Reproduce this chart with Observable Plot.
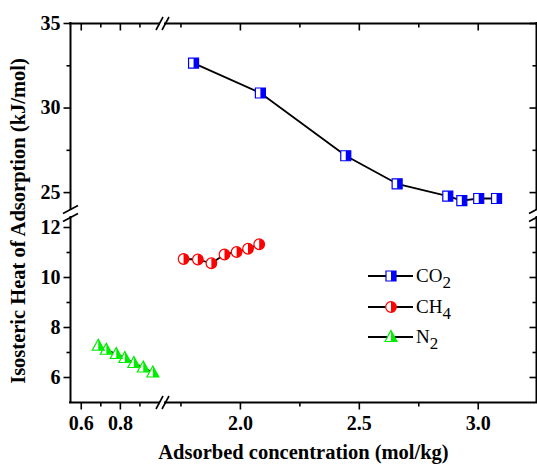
<!DOCTYPE html>
<html><head><meta charset="utf-8">
<script src="https://cdn.jsdelivr.net/npm/d3@7"></script>
<script src="https://cdn.jsdelivr.net/npm/@observablehq/plot@0.6"></script>
<style>
html,body{margin:0;padding:0;background:#fff;}
</style>
</head><body><div id="chart"></div>
<script>
// ---- data ----
const co2X = [1.803, 2.084, 2.443, 2.659, 2.872, 2.931, 3.002, 3.077];
const co2Y = [32.66, 30.89, 27.18, 25.52, 24.79, 24.53, 24.65, 24.65];
const ch4X = [1.761, 1.821, 1.878, 1.933, 1.984, 2.032, 2.079];
const ch4Y = [10.74, 10.72, 10.57, 10.92, 11.02, 11.15, 11.33];
const n2X  = [0.687, 0.728, 0.779, 0.823, 0.869, 0.917, 0.966];
const n2Y  = [7.27, 7.11, 6.94, 6.78, 6.58, 6.40, 6.20];
const seriesBase = ["CO", "CH", "N"];
const seriesSub  = ["2", "4", "2"];
const seriesColor = ["#0000ff", "#ff0000", "#00ee00"];
const xMajor = [0.6, 0.8, 2.0, 2.5, 3.0];
const xMinor = [0.7, 0.9, 1.75, 2.25, 2.75];
const yMajor = [6, 8, 10, 12, 25, 30, 35];
const yMinor = [7, 9, 11, 27.5, 32.5];
const xDomain = [0.545, 1.0, 1.685, 3.245];   // broken x axis (two segments)
const yDomain = [5, 12.4, 24, 35];            // broken y axis (two segments)
const xLabel = "Adsorbed concentration (mol/kg)";
const yLabel = "Isosteric Heat of Adsorption (kJ/mol)";

// broken-axis mapping onto a continuous "axis length" coordinate used by Plot's linear scales
const xSpan = [0, 89, 95, 466];
const ySpan = [0, 185, 193, 379];
function brk(dom, span) {
  return v => {
    let i = 0;
    while (i < dom.length - 2 && v > dom[i + 1]) i++;
    return span[i] + (v - dom[i]) / (dom[i + 1] - dom[i]) * (span[i + 1] - span[i]);
  };
}
const bx = brk(xDomain, xSpan), by = brk(yDomain, ySpan);

const toRows = (xs, ys) => xs.map((x, i) => ({x: bx(x), y: by(ys[i])}));
const co2 = toRows(co2X, co2Y), ch4 = toRows(ch4X, ch4Y), n2 = toRows(n2X, n2Y);

// ---- custom symbols ----
const seg = (x2, y2) => ({draw(c) { c.moveTo(0, 0); c.lineTo(x2, y2); }});
const slashV = {draw(c) { c.moveTo(-7.5, 4); c.lineTo(7.5, -4); }};
const slashH = {draw(c) { c.moveTo(-3.5, 6.5); c.lineTo(3.5, -6.5); }};
const sqFull = {draw(c) { c.rect(-5, -5, 10, 10); }};
const sqHalf = {draw(c) { c.rect(0, -5, 5, 10); }};
const ciFull = {draw(c) { c.moveTo(5.3, 0); c.arc(0, 0, 5.3, 0, 2 * Math.PI); }};
const ciHalf = {draw(c) { c.moveTo(0, -5.3); c.arc(0, 0, 5.3, -Math.PI / 2, Math.PI / 2); c.closePath(); }};
const trFull = {draw(c) { c.moveTo(0, -6.5); c.lineTo(6, 4.5); c.lineTo(-6, 4.5); c.closePath(); }};
const trHalf = {draw(c) { c.moveTo(0, -6.5); c.lineTo(6, 4.5); c.lineTo(0, 4.5); c.closePath(); }};
const fullSyms = [sqFull, ciFull, trFull], halfSyms = [sqHalf, ciHalf, trHalf];

function seriesMarks(rows, k) {
  const col = seriesColor[k];
  return [
    Plot.line(rows, {x: "x", y: "y", stroke: "black", strokeWidth: 1.8}),
    Plot.dot(rows, {x: "x", y: "y", symbol: fullSyms[k], fill: "white", stroke: "none"}),
    Plot.dot(rows, {x: "x", y: "y", symbol: halfSyms[k], fill: col, stroke: "none"}),
    Plot.dot(rows, {x: "x", y: "y", symbol: fullSyms[k], fill: "none", stroke: col, strokeWidth: 1.2})
  ];
}

const ySegs = [[yDomain[0], yDomain[1]], [yDomain[2], yDomain[3]]];
const xSegs = [[xDomain[0], xDomain[1]], [xDomain[2], xDomain[3]]];
const axisStyle = {stroke: "black", strokeWidth: 2, strokeLinecap: "square"};
const tickStyle = {stroke: "black", strokeWidth: 1.6, fill: "none"};
const tickFont = {fontFamily: "Liberation Serif", fontWeight: "bold", fontSize: 20, fill: "black"};

const chart = Plot.plot({
  width: 537, height: 467,
  marginLeft: 70, marginRight: 1, marginTop: 23, marginBottom: 65,
  x: {type: "linear", domain: [xSpan[0], xSpan[3]], axis: null},
  y: {type: "linear", domain: [ySpan[0], ySpan[3]], axis: null},
  style: {fontFamily: "Liberation Serif", background: "white", overflow: "visible"},
  marks: [
    // frame segments
    Plot.ruleX(ySegs, {x: bx(xDomain[0]), y1: d => by(d[0]), y2: d => by(d[1]), ...axisStyle}),
    Plot.ruleX(ySegs, {x: bx(xDomain[3]), y1: d => by(d[0]), y2: d => by(d[1]), ...axisStyle}),
    Plot.ruleY(xSegs, {y: by(yDomain[0]), x1: d => bx(d[0]), x2: d => bx(d[1]), ...axisStyle}),
    Plot.ruleY(xSegs, {y: by(yDomain[3]), x1: d => bx(d[0]), x2: d => bx(d[1]), ...axisStyle}),
    // break marks
    Plot.dot([yDomain[1], yDomain[2]], {x: bx(xDomain[0]), y: by, symbol: slashV, ...tickStyle}),
    Plot.dot([yDomain[1], yDomain[2]], {x: bx(xDomain[3]), y: by, symbol: slashV, ...tickStyle}),
    Plot.dot([xDomain[1], xDomain[2]], {y: by(yDomain[0]), x: bx, symbol: slashH, ...tickStyle}),
    Plot.dot([xDomain[1], xDomain[2]], {y: by(yDomain[3]), x: bx, symbol: slashH, ...tickStyle}),
    // ticks: left/bottom outward, right/top inward
    Plot.dot(yMajor, {y: by, frameAnchor: "left", symbol: seg(-7, 0), ...tickStyle}),
    Plot.dot(yMinor, {y: by, frameAnchor: "left", symbol: seg(-4, 0), ...tickStyle}),
    Plot.dot(yMajor, {y: by, frameAnchor: "right", symbol: seg(-7, 0), ...tickStyle}),
    Plot.dot(yMinor, {y: by, frameAnchor: "right", symbol: seg(-4, 0), ...tickStyle}),
    Plot.dot(xMajor, {x: bx, frameAnchor: "bottom", symbol: seg(0, 7), ...tickStyle}),
    Plot.dot(xMinor, {x: bx, frameAnchor: "bottom", symbol: seg(0, 4), ...tickStyle}),
    Plot.dot(xMajor, {x: bx, frameAnchor: "top", symbol: seg(0, 7), ...tickStyle}),
    Plot.dot(xMinor, {x: bx, frameAnchor: "top", symbol: seg(0, 4), ...tickStyle}),
    // tick labels
    Plot.text(yMajor, {y: by, text: d => String(d), frameAnchor: "left", textAnchor: "end", dx: -10, ...tickFont}),
    Plot.text(xMajor, {x: bx, text: d => d.toFixed(1), frameAnchor: "bottom", textAnchor: "middle", lineAnchor: "top", dy: 13, ...tickFont}),
    // axis titles
    Plot.text([xLabel], {text: d => d, frameAnchor: "bottom", textAnchor: "middle", dy: 56, fontFamily: "Liberation Serif", fontWeight: "bold", fontSize: 20.5, fill: "black"}),
    Plot.text([yLabel], {text: d => d, frameAnchor: "left", textAnchor: "middle", rotate: -90, dx: -52, dy: 8, fontFamily: "Liberation Serif", fontWeight: "bold", fontSize: 20.5, fill: "black"}),
    // series
    ...seriesMarks(n2, 2),
    ...seriesMarks(ch4, 1),
    ...seriesMarks(co2, 0)
  ]
});

// ---- legend (drawn inside the plot frame) ----
const svg = d3.select(chart);
const lg = svg.append("g").attr("font-family", "Liberation Serif").attr("font-size", 19).attr("text-anchor", "start");
const rowY = [276, 307, 337];
seriesBase.forEach((name, k) => {
  const y = rowY[k];
  lg.append("line").attr("x1", 368).attr("x2", 413).attr("y1", y).attr("y2", y)
    .attr("stroke", "black").attr("stroke-width", 1.8);
  const g = lg.append("g").attr("transform", `translate(391,${y})`);
  g.append("path").attr("d", d3.symbol(fullSyms[k])()).attr("fill", "white");
  g.append("path").attr("d", d3.symbol(halfSyms[k])()).attr("fill", seriesColor[k]);
  g.append("path").attr("d", d3.symbol(fullSyms[k])()).attr("fill", "none")
    .attr("stroke", seriesColor[k]).attr("stroke-width", 1.2);
  const t = lg.append("text").attr("x", 416).attr("y", y + 6).attr("fill", "black").text(name);
  t.append("tspan").attr("font-size", 17).attr("dy", 6).text(seriesSub[k]);
});

document.getElementById("chart").append(chart);
</script>
</body></html>
